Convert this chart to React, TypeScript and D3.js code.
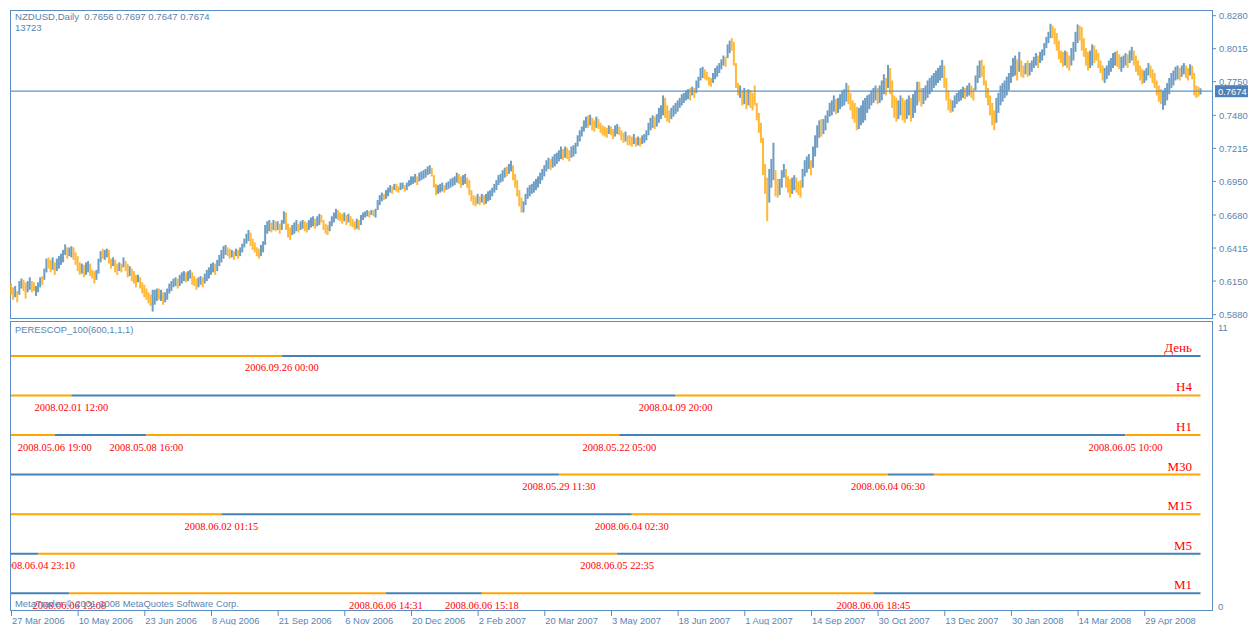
import * as d3 from 'd3';
import React from 'react';

// daily bars, price * 10000
const lows = [
  6040, 6000, 6020, 5980, 6040, 6090, 6070, 6010, 6060, 6080,
  6060, 6070, 6030, 6060, 6100, 6120, 6160, 6220, 6250, 6220,
  6240, 6200, 6230, 6250, 6280, 6300, 6360, 6330, 6350, 6340,
  6320, 6280, 6230, 6200, 6210, 6180, 6200, 6220, 6190, 6170,
  6130, 6160, 6210, 6300, 6330, 6320, 6340, 6290, 6250, 6270,
  6220, 6200, 6230, 6220, 6260, 6230, 6180, 6190, 6150, 6130,
  6100, 6140, 6090, 6050, 6020, 6000, 5970, 5950, 5905, 5960,
  5990, 6000, 5990, 5960, 5980, 6000, 6050, 6070, 6100, 6110,
  6090, 6110, 6130, 6150, 6140, 6150, 6170, 6120, 6110, 6080,
  6100, 6120, 6100, 6130, 6150, 6170, 6200, 6220, 6200, 6230,
  6270, 6300, 6330, 6360, 6350, 6330, 6340, 6320, 6350, 6330,
  6350, 6380, 6420, 6450, 6470, 6430, 6400, 6380, 6350, 6330,
  6350, 6380, 6440, 6530, 6550, 6540, 6560, 6550, 6560, 6530,
  6560, 6610, 6560, 6500, 6480, 6520, 6530, 6550, 6540, 6560,
  6570, 6550, 6540, 6560, 6580, 6590, 6570, 6590, 6600, 6620,
  6560, 6530, 6520, 6550, 6590, 6620, 6650, 6640, 6630, 6610,
  6630, 6600, 6620, 6590, 6580, 6560, 6570, 6560, 6600, 6640,
  6660, 6670, 6660, 6680, 6670, 6660, 6720, 6760, 6790, 6800,
  6810, 6830, 6860, 6850, 6880, 6870, 6860, 6880, 6890, 6870,
  6880, 6910, 6920, 6930, 6940, 6920, 6950, 6960, 6970, 6980,
  7000, 7010, 6990, 6900, 6840, 6850, 6860, 6870, 6860, 6880,
  6890, 6900, 6910, 6920, 6940, 6930, 6900, 6920, 6930, 6900,
  6840, 6790, 6760, 6750, 6770, 6760, 6780, 6760, 6770, 6790,
  6800, 6830, 6860, 6880, 6920, 6940, 6950, 6980, 6990, 7010,
  7030, 6960, 6900, 6830, 6750, 6700, 6700, 6760, 6810, 6830,
  6850, 6860, 6880, 6900, 6930, 6960, 6990, 7030, 7050, 7040,
  7060, 7070, 7090, 7110, 7130, 7120, 7140, 7130, 7110, 7140,
  7150, 7170, 7230, 7270, 7310, 7350, 7380, 7380, 7400, 7360,
  7350, 7380, 7370, 7340, 7320, 7310, 7300, 7330, 7320, 7290,
  7310, 7330, 7320, 7280, 7260, 7270, 7240, 7240, 7230, 7250,
  7230, 7240, 7230, 7250, 7260, 7280, 7320, 7360, 7380, 7370,
  7390, 7420, 7450, 7480, 7460, 7430, 7420, 7450, 7470, 7490,
  7510, 7540, 7560, 7580, 7600, 7610, 7600, 7640, 7620, 7660,
  7700, 7760, 7780, 7770, 7760, 7720, 7710, 7740, 7770, 7790,
  7820, 7850, 7880, 7870, 7940, 7980, 8000, 7880, 7700, 7640,
  7620, 7560, 7570, 7530, 7560, 7540, 7520, 7560, 7440, 7340,
  7260, 7000, 6850, 6630, 6780, 6900, 6960, 6830, 6820, 6840,
  6900, 6980, 6900, 6860, 6820, 6850, 6880, 6860, 6840, 6820,
  6900, 6990, 7020, 7050, 7000, 7060, 7150, 7220, 7300, 7310,
  7330, 7360, 7420, 7470, 7480, 7510, 7490, 7500, 7530, 7550,
  7560, 7590, 7570, 7520, 7450, 7420, 7360, 7370, 7400, 7420,
  7440, 7500, 7530, 7560, 7580, 7600, 7570, 7580, 7600, 7650,
  7640, 7700, 7650, 7540, 7460, 7430, 7450, 7480, 7440, 7420,
  7450, 7480, 7430, 7460, 7500, 7560, 7590, 7550, 7570, 7600,
  7620, 7650, 7670, 7700, 7720, 7740, 7760, 7780, 7700, 7600,
  7520, 7500, 7510, 7540, 7570, 7590, 7600, 7620, 7610, 7630,
  7640, 7620, 7600, 7680, 7740, 7780, 7790, 7720, 7620, 7560,
  7480, 7400, 7360, 7420, 7500, 7560, 7590, 7620, 7640, 7680,
  7740, 7790, 7800, 7760, 7830, 7790, 7780, 7810, 7790, 7800,
  7830, 7860, 7880, 7860, 7900, 7920, 7960, 8020, 8060, 8100,
  8100, 8050, 8000, 7930, 7900, 7870, 7880, 7860, 7840, 7880,
  7920, 7990, 8060, 8080, 8000, 7950, 7880, 7840, 7860, 7880,
  7900, 7920, 7860, 7820, 7760, 7740, 7770, 7800, 7830, 7860,
  7880, 7870, 7850, 7830, 7860, 7880, 7860, 7900, 7920, 7880,
  7830, 7800, 7760, 7730, 7740, 7760, 7800, 7780, 7740, 7700,
  7640, 7590, 7570, 7525, 7560, 7600, 7650, 7700, 7720, 7760,
  7770, 7760, 7790, 7810, 7780, 7760, 7800, 7770, 7640, 7620,
  7630, 7647,
];
const highs = [
  6130, 6100, 6110, 6070, 6150, 6170, 6160, 6140, 6150, 6180,
  6150, 6140, 6110, 6140, 6180, 6190, 6250, 6330, 6340, 6320,
  6340, 6300, 6330, 6350, 6370, 6400, 6445, 6420, 6420, 6430,
  6420, 6380, 6350, 6300, 6290, 6280, 6300, 6310, 6290, 6240,
  6230, 6240, 6330, 6390, 6410, 6400, 6410, 6400, 6330, 6340,
  6320, 6290, 6300, 6290, 6340, 6310, 6290, 6270, 6250, 6230,
  6200, 6200, 6180, 6140, 6120, 6090, 6060, 6040, 6080, 6080,
  6090, 6090, 6080, 6060, 6060, 6090, 6130, 6150, 6170, 6180,
  6170, 6200, 6220, 6230, 6220, 6230, 6240, 6220, 6190, 6170,
  6180, 6190, 6180, 6210, 6240, 6260, 6290, 6300, 6290, 6320,
  6360, 6400, 6430, 6440, 6420, 6410, 6400, 6390, 6410, 6400,
  6420, 6450, 6490, 6530, 6560, 6540, 6490, 6460, 6420, 6410,
  6440, 6470, 6600, 6630, 6640, 6620, 6640, 6630, 6630, 6610,
  6640, 6710, 6700, 6610, 6580, 6600, 6620, 6640, 6610, 6630,
  6640, 6630, 6620, 6640, 6660, 6670, 6650, 6670, 6690, 6680,
  6640, 6610, 6600, 6630, 6670, 6700, 6730, 6720, 6700, 6690,
  6700, 6680, 6690, 6670, 6650, 6630, 6650, 6640, 6680, 6700,
  6710, 6720, 6710, 6720, 6720, 6730, 6800, 6840, 6860, 6850,
  6880, 6900, 6920, 6910, 6930, 6930, 6910, 6940, 6940, 6920,
  6940, 6960, 6990, 6990, 7010, 6990, 7020, 7030, 7040, 7050,
  7070, 7080, 7060, 7000, 6930, 6920, 6930, 6940, 6920, 6940,
  6950, 6970, 6980, 6990, 7020, 7010, 6990, 7000, 7010, 6980,
  6960, 6880, 6840, 6830, 6850, 6830, 6850, 6840, 6850, 6870,
  6880, 6900, 6930, 6960, 7000, 7010, 7040, 7060, 7070, 7090,
  7116, 7080, 7010, 6960, 6880, 6820, 6790, 6850, 6900, 6920,
  6930, 6950, 6970, 6990, 7020, 7050, 7080, 7120, 7140, 7130,
  7150, 7170, 7180, 7200, 7230, 7210, 7230, 7220, 7200, 7230,
  7240, 7260, 7320, 7360, 7390, 7440, 7470, 7480, 7485, 7460,
  7440, 7470, 7450, 7420, 7400, 7390, 7380, 7400, 7390, 7370,
  7400, 7410, 7390, 7360, 7340, 7350, 7320, 7320, 7310, 7330,
  7300, 7310, 7300, 7320, 7330, 7360, 7420, 7460, 7480, 7470,
  7490, 7540, 7560, 7640, 7620, 7560, 7520, 7540, 7560, 7580,
  7600, 7620, 7650, 7660, 7680, 7690, 7700, 7710, 7700, 7760,
  7790, 7860, 7870, 7850, 7830, 7790, 7780, 7820, 7860, 7880,
  7900, 7930, 7960, 7950, 8050, 8080, 8100, 8070, 7900, 7740,
  7720, 7680, 7700, 7680, 7690, 7680, 7660, 7720, 7580, 7500,
  7420, 7300, 7090, 6980, 7050, 7130, 7260, 7040, 6970, 6970,
  7040, 7090, 7050, 6990, 6970, 6980, 7000, 6980, 6950, 6960,
  7050, 7120, 7150, 7170, 7120, 7230, 7320, 7400, 7440, 7450,
  7450, 7480, 7520, 7580, 7600, 7640, 7610, 7620, 7650, 7680,
  7690, 7740, 7720, 7660, 7600, 7580, 7550, 7540, 7560, 7600,
  7620, 7640, 7650, 7680, 7700, 7720, 7700, 7720, 7760, 7810,
  7780, 7885, 7860, 7760, 7640, 7620, 7600, 7640, 7620, 7600,
  7610, 7640, 7620, 7650, 7680, 7750, 7750, 7700, 7700, 7720,
  7760, 7780, 7800, 7820, 7840, 7860, 7880, 7925, 7880, 7780,
  7680, 7610, 7600, 7640, 7660, 7680, 7690, 7710, 7700, 7720,
  7740, 7720, 7700, 7800, 7880, 7920, 7925, 7880, 7760, 7700,
  7640, 7580, 7520, 7620, 7660, 7720, 7740, 7760, 7790, 7820,
  7880, 7940, 7960, 7930, 7990, 7920, 7880, 7900, 7920, 7900,
  7920, 7950, 7980, 7960, 7990, 8010, 8060, 8110, 8150, 8215,
  8200, 8180, 8140, 8080, 8000, 7990, 8000, 7990, 7960, 8020,
  8070, 8150, 8210, 8200, 8190, 8100, 8020, 7990, 8000, 8050,
  8040, 8010, 7980, 7920, 7880, 7860, 7880, 7920, 7940, 7980,
  7990, 8000, 7970, 7950, 7960, 7980, 7970, 8000, 8030, 8000,
  7960, 7920, 7880, 7850, 7840, 7860, 7900, 7880, 7850, 7820,
  7760, 7720, 7690, 7680, 7700, 7740, 7780, 7820, 7840, 7870,
  7880, 7860, 7880, 7900, 7880, 7860, 7890, 7880, 7820, 7720,
  7710, 7697,
];
// u = close above open, d = close below open
const dirs = (
  'dduduudduu dduuuduudd uduuuuuduu dddduduudd duuuduuddu ddududdudd dudddddduu ududuuuuuu duuuduuddd uuduuuuudu ' +
  'uuuuddudud uuuuuddddd uuuuududud uuddduuudu udduuuduud ddduuuuddd ududdduduu uududuuuud uuududduud uuuuuduuuu ' +
  'uuddduuudu uuuuudduud ddddududuu uuuuuuuudu uddddduuuu uuuuuuuuud uuuuududdu uuuuuuudud dudddddudd uudddudddu ' +
  'duduuuuuud uuuuddduuu uuuuuududu uuudddduuu uuuduudddd udududdddd dddduuuddu uuddduuddd uuuuduuuud uuuuuuduuu ' +
  'uuddddduuu uuuuuuduuu dudddduudd uuduuudduu uuuuuuuudd dduuuuuudu udduuudddd ddduuuuuuu uuududdudu uuuduuuuuu ' +
  'dddddduddu uuuddddduu ddddduuuuu udduuuduud dddduuuddd ddduuuuuuu uduudduddd du'
).replace(/ /g, '');

const priceTicks = [0.8280, 0.8015, 0.7750, 0.7480, 0.7215, 0.6950, 0.6680, 0.6415, 0.6150, 0.5880];
const lastPrice = 0.7674;
const headerText = 'NZDUSD,Daily  0.7656 0.7697 0.7647 0.7674';
const volumeText = '13723';

const dateLabels = [
  '27 Mar 2006', '10 May 2006', '23 Jun 2006', '8 Aug 2006', '21 Sep 2006', '6 Nov 2006',
  '20 Dec 2006', '2 Feb 2007', '20 Mar 2007', '3 May 2007', '18 Jun 2007', '1 Aug 2007',
  '14 Sep 2007', '30 Oct 2007', '13 Dec 2007', '30 Jan 2008', '14 Mar 2008', '29 Apr 2008',
];
const dateTickBars = [0, 32, 64, 96, 128, 160, 192, 224, 256, 288, 320, 352, 384, 416, 448, 480, 512, 544];

// PERESCOP indicator rows
const frameNames = ['День', 'H4', 'H1', 'M30', 'M15', 'M5', 'M1'];
const frameLevels = [9.86, 8.3, 6.74, 5.18, 3.62, 2.06, 0.5];
const frameStart = ['down', 'down', 'down', 'up', 'down', 'up', 'up'];
const switchBars = [
  [130],
  [29, 319],
  [21, 65, 292, 535],
  [263, 421, 443],
  [101, 298],
  [13, 291],
  [28, 180, 226, 414],
];
const switchLabels = [
  ['2006.09.26 00:00'],
  ['2008.02.01 12:00', '2008.04.09 20:00'],
  ['2008.05.06 19:00', '2008.05.08 16:00', '2008.05.22 05:00', '2008.06.05 10:00'],
  ['2008.05.29 11:30', '2008.06.04 06:30', ''],
  ['2008.06.02 01:15', '2008.06.04 02:30'],
  ['2008.06.04 23:10', '2008.06.05 22:35'],
  ['2008.06.06 13:08', '2008.06.06 14:31', '2008.06.06 15:18', '2008.06.06 18:45'],
];

const UP = '#4682B4';
const DOWN = '#FFA500';
const AXIS = '#5b8cc2';
const TEXT = '#5a84b0';
const SANS = '"Liberation Sans", Arial, sans-serif';
const SERIF = '"Liberation Serif", "Times New Roman", serif';

export default function App() {
  const W = 1248, H = 625;
  const left = 11, right = 1213;
  const mainTop = 10, mainBottom = 318;
  const indTop = 321, indBottom = 610;

  const x = d3.scaleLinear().domain([0, lows.length - 1]).range([11, 1200.5]);
  const y = d3.scaleLinear().domain([0.588, 0.828]).range([314.7, 15.7]);
  const yi = d3.scaleLinear().domain([0, 11]).range([606, 327]);

  const rows = frameNames.map((name, r) => {
    const cuts = [0, ...switchBars[r], lows.length - 1];
    const segs = [];
    let up = frameStart[r] === 'up';
    for (let k = 0; k < cuts.length - 1; k++) {
      segs.push({ x0: x(cuts[k]), x1: x(cuts[k + 1]), color: up ? UP : DOWN });
      up = !up;
    }
    return { name, yv: yi(frameLevels[r]), segs, labels: switchBars[r].map((b, k) => ({ x: x(b), text: switchLabels[r][k] })) };
  });

  return (
    <svg width={W} height={H} style={{ position: 'absolute', left: 0, top: 0, background: '#fff' }}>
      <defs>
        <clipPath id="indClip">
          <rect x={left} y={indTop} width={right - left} height={indBottom - indTop} />
        </clipPath>
      </defs>
      <rect x={0} y={0} width={W} height={H} fill="#fff" />

      {/* main chart frame */}
      <rect x={left - 0.5} y={mainTop + 0.5} width={right - left} height={mainBottom - mainTop} fill="none" stroke={AXIS} strokeWidth={1} />
      <text x={15} y={20} fontFamily={SANS} fontSize={9.6} fill={TEXT} style={{ whiteSpace: 'pre' }}>{headerText}</text>
      <text x={15} y={31} fontFamily={SANS} fontSize={9.6} fill={TEXT}>{volumeText}</text>

      {/* price axis */}
      {priceTicks.map(p => (
        <g key={p}>
          <line x1={right} x2={right + 3} y1={y(p)} y2={y(p)} stroke={AXIS} />
          <text x={1219} y={y(p) + 3.5} fontFamily={SANS} fontSize={9.4} fill={TEXT}>{p.toFixed(4)}</text>
        </g>
      ))}

      {/* bars */}
      <g opacity={0.78}>
        {lows.map((lo, i) => (
          <rect key={i} x={x(i) - 1} width={2} y={y(highs[i] / 10000)} height={y(lo / 10000) - y(highs[i] / 10000)}
            fill={dirs[i] === 'u' ? UP : DOWN} />
        ))}
      </g>

      {/* last price line and tag */}
      <line x1={left} x2={right} y1={y(lastPrice)} y2={y(lastPrice)} stroke="#5f93c9" strokeWidth={1.2} />
      <rect x={right + 2} y={y(lastPrice) - 6} width={W - right - 2} height={12} fill="#4f81b8" />
      <text x={1218} y={y(lastPrice) + 3.5} fontFamily={SANS} fontSize={9.4} fill="#fff">{lastPrice.toFixed(4)}</text>

      {/* indicator frame */}
      <rect x={left - 0.5} y={indTop + 0.5} width={right - left} height={indBottom - indTop} fill="none" stroke={AXIS} strokeWidth={1} />
      <text x={15} y={333} fontFamily={SANS} fontSize={9.4} fill={TEXT}>PERESCOP_100(600,1,1,1)</text>
      <text x={1218} y={yi(11) + 3.5} fontFamily={SANS} fontSize={9.4} fill={TEXT}>11</text>
      <text x={1218} y={yi(0) + 3.5} fontFamily={SANS} fontSize={9.4} fill={TEXT}>0</text>

      <g clipPath="url(#indClip)">
        {rows.map(row => (
          <g key={row.name}>
            {row.segs.map((s, k) => (
              <line key={k} x1={s.x0} x2={s.x1} y1={row.yv} y2={row.yv} stroke={s.color} strokeWidth={2} />
            ))}
            {row.labels.map((l, k) => (
              <text key={k} x={l.x} y={row.yv + 15.5} textAnchor="middle" fontFamily={SERIF} fontSize={10.5} fill="#ff0000">{l.text}</text>
            ))}
            <text x={1192} y={row.yv - 4} textAnchor="end" fontFamily={SERIF} fontSize={13} fill="#ff0000">{row.name}</text>
          </g>
        ))}
      </g>
      <text x={15} y={607} fontFamily={SANS} fontSize={9.4} fill={TEXT}>MetaTrader © 2001-2008 MetaQuotes Software Corp.</text>

      {/* time axis */}
      {dateLabels.map((d, k) => (
        <g key={d}>
          <line x1={x(dateTickBars[k]) + 0.5} x2={x(dateTickBars[k]) + 0.5} y1={indBottom + 1} y2={indBottom + 6} stroke={AXIS} />
          <text x={x(dateTickBars[k]) + 1} y={623.5} fontFamily={SANS} fontSize={9.4} fill={TEXT}>{d}</text>
        </g>
      ))}
    </svg>
  );
}
